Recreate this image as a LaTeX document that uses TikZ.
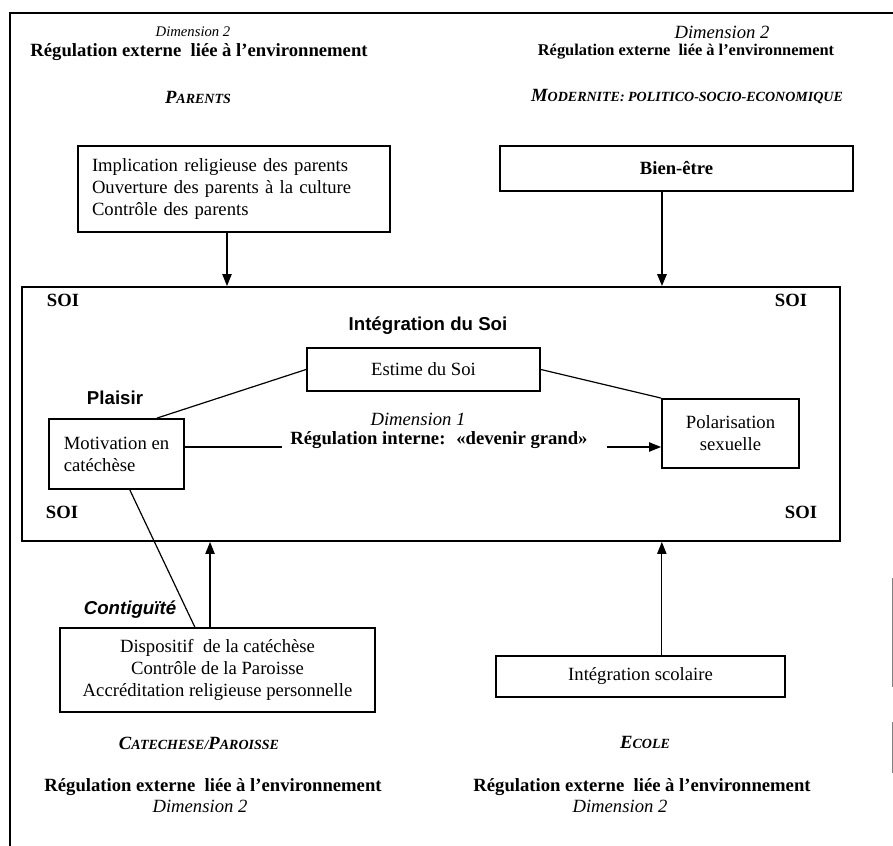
\documentclass[tikz,border=0pt]{standalone}
\usepackage{fontspec}
\setmainfont{Liberation Serif}
\newfontfamily\labfont{Liberation Sans}
\usetikzlibrary{arrows.meta}
\newcommand{\fsc}[2]{#1{\fontsize{10.5}{12}\selectfont #2}}
\begin{document}
\begin{tikzpicture}[x=0.75pt,y=-0.75pt,
  every node/.style={inner sep=0pt},
  main/.style={font=\fontsize{14}{16.5}\selectfont},
  box/.style={draw, line width=1.4pt, main, align=center},
  conn/.style={line width=0.9pt},
  arr/.style={conn, -{Triangle[length=9pt,width=7pt]}},
  dimlab/.style={font=\fontsize{14}{16.5}\selectfont\itshape},
  reglab/.style={font=\fontsize{14}{16.5}\selectfont\bfseries},
  soilab/.style={font=\fontsize{14}{16.5}\selectfont\bfseries},
  sanslab/.style={font=\fontsize{14}{16.5}\selectfont\labfont\bfseries},
  cat/.style={font=\fontsize{14}{16.5}\selectfont\bfseries\itshape}
]
\useasboundingbox (0,0) rectangle (893,846);
% outer frame
\coordinate (ftl) at (10,13);
\coordinate (ftr) at (893,13);
\coordinate (fbl) at (10,846);
\draw[line width=1.2pt] (ftr) -- (ftl) -- (fbl);
\coordinate (rf1) at (892,578);
\coordinate (rf2) at (892,687);
\coordinate (rf3) at (892,722);
\coordinate (rf4) at (892,773);
\draw[line width=0.6pt, gray] (rf1) -- (rf2) (rf3) -- (rf4);

% top texts
\node[dimlab, font=\fontsize{11}{13}\selectfont\itshape] (d2a) at (193,32) {Dimension 2};
\node[reglab] (r2a) at (199,52) {Régulation externe~ liée à l'environnement};
\node[dimlab] (d2b) at (722,32) {Dimension 2};
\node[reglab, font=\fontsize{12.3}{14}\selectfont\bfseries] (r2b) at (686,52) {Régulation externe~ liée à l'environnement};
\node[cat] (parlab) at (198,97) {\fsc{P}{ARENTS}};
\node[cat] (modlab) at (687,97) {\fsc{M}{ODERNITE: POLITICO-SOCIO-ECONOMIQUE}};

% boxes
\node[box, minimum width=234pt, minimum height=64.5pt, text width=213pt, align=left] (par) at (234,189)
  {Implication religieuse des parents\\Ouverture des parents à la culture\\Contrôle des parents};
\node[box, minimum width=264.75pt, minimum height=33.75pt, font=\fontsize{14}{16.5}\selectfont\bfseries] (bien) at (676.5,168.5) {Bien-être};
\node[draw, line width=1.4pt, minimum width=613.5pt, minimum height=190.5pt] (soi) at (431,414) {};
\node[box, minimum width=174.75pt, minimum height=32.25pt] (est) at (423.5,369.5) {Estime du Soi};
\node[box, minimum width=101.25pt, minimum height=52.5pt, align=left] (mot) at (116.5,454) {Motivation en\\catéchèse};
\node[box, minimum width=102.75pt, minimum height=51.75pt] (pol) at (730.5,433.5) {Polarisation\\sexuelle};
\node[box, minimum width=236.25pt, minimum height=63pt] (catbox) at (217.5,670)
  {Dispositif~ de la catéchèse\\Contrôle de la Paroisse\\Accréditation religieuse personnelle};
\node[box, minimum width=216.75pt, minimum height=30.75pt] (eco) at (640.5,676.5) {Intégration scolaire};

% SOI labels
\node[soilab] (s1) at (63,300) {SOI};
\node[soilab] (s2) at (791,300) {SOI};
\node[soilab] (s3) at (62,512) {SOI};
\node[soilab] (s4) at (801,512) {SOI};

\node[sanslab] (integ) at (428,326) {Intégration du Soi};
\node[sanslab] (plaisir) at (115,398) {Plaisir};
\node[dimlab] (d1) at (418,419) {Dimension 1};
\node[reglab] (rint) at (439,440) {Régulation interne:~ «devenir grand»};
\node[sanslab, font=\fontsize{14}{16.5}\selectfont\labfont\bfseries\itshape] (contig) at (130,610) {Contiguïté};

% bottom texts
\node[cat] (catlab) at (199,743) {\fsc{C}{ATECHESE/}\fsc{P}{AROISSE}};
\node[cat] (ecolab) at (645,742) {\fsc{E}{COLE}};
\node[reglab] (r2c) at (213,787) {Régulation externe~ liée à l'environnement};
\node[dimlab] (d2c) at (200,806) {Dimension 2};
\node[reglab] (r2d) at (642,787) {Régulation externe~ liée à l'environnement};
\node[dimlab] (d2d) at (620,806) {Dimension 2};

% connectors
\draw[arr] ([xshift=-5.25pt]par.south) -- ([xshift=-5.25pt]par.south |- soi.north);
\draw[arr, line width=1.6pt] ([xshift=-10.9pt]bien.south) -- ([xshift=-10.9pt]bien.south |- soi.north);
\draw[conn] (est.west) -- ([xshift=30.4pt]mot.north);
\draw[conn] (est.east) -- (pol.north west);
\coordinate (g1) at (282,447);
\coordinate (g2) at (607,447);
\draw[conn] ([yshift=5.25pt]mot.east) -- (g1);
\draw[arr] (g2) -- (g2 -| pol.west);
\draw[conn] ([xshift=10pt]mot.south) -- ([xshift=-17pt]catbox.north);
\draw[arr] ([xshift=-5.6pt]catbox.north) -- ([xshift=-5.6pt]catbox.north |- soi.south);
\draw[arr] ([xshift=16pt]eco.north) -- ([xshift=16pt]eco.north |- soi.south);
\end{tikzpicture}
\end{document}
